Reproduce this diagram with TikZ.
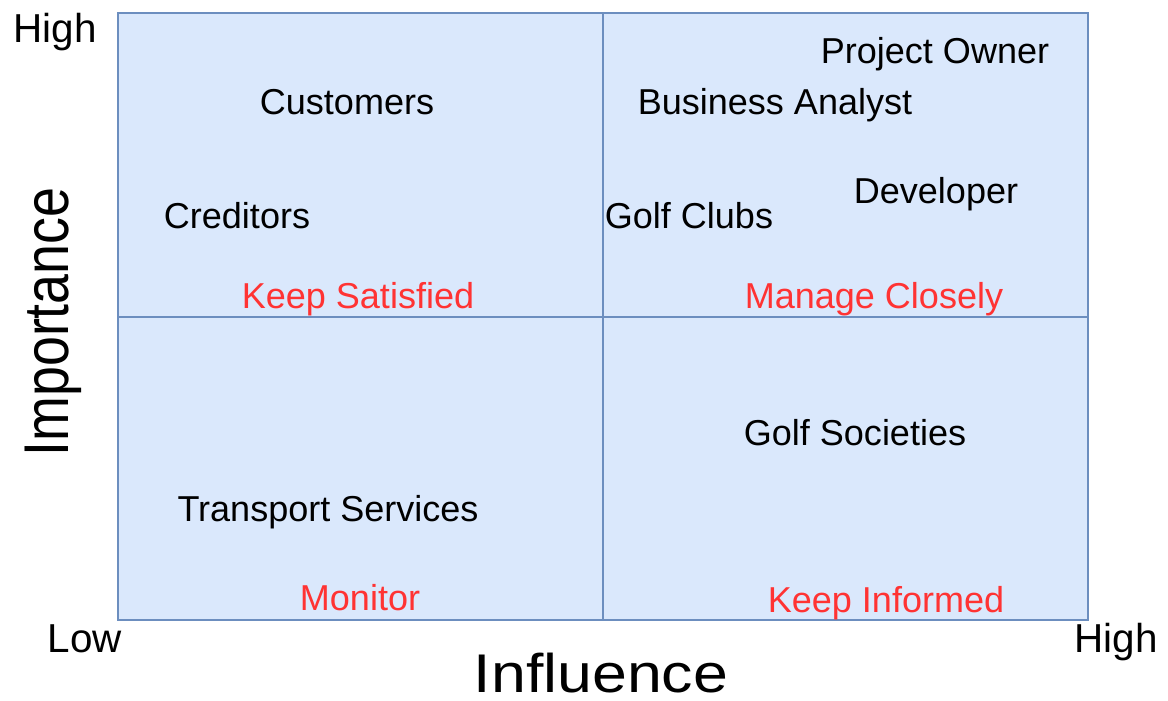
\documentclass[tikz,border=0pt]{standalone}
\usepackage{fontspec}
\setmainfont{Liberation Sans}
\definecolor{gridfill}{HTML}{DAE8FC}
\definecolor{gridline}{HTML}{6C8EBF}
\definecolor{strategyred}{HTML}{FF3333}
\begin{document}
\begin{tikzpicture}[x=0.02cm,y=-0.02cm,
    party/.style={anchor=base,inner sep=0pt,font=\fontsize{20.5}{24}\selectfont},
    strategy/.style={party,text=strategyred},
    tick/.style={anchor=base,inner sep=0pt,font=\fontsize{23}{27}\selectfont}]
  \useasboundingbox (0,0) rectangle (1168,700);
  % Grid
  \draw[gridline,fill=gridfill,line width=1.2pt] (118,13) rectangle (1088,620);
  \draw[gridline,line width=1.2pt] (603,13) -- (603,620);
  \draw[gridline,line width=1.2pt] (118,317) -- (1088,317);
  % Stakeholders
  \node[party] (cust) at (347,114) {Customers};
  \node[party] (cred) at (237,228) {Creditors};
  \node[party] (owner) at (935,63) {Project Owner};
  \node[party] (analyst) at (775,114) {Business Analyst};
  \node[party] (dev) at (936,203) {Developer};
  \node[party] (clubs) at (689,228) {Golf Clubs};
  \node[party] (soc) at (855,445) {Golf Societies};
  \node[party] (trans) at (328,521) {Transport Services};
  % Strategies
  \node[strategy] (satisfied) at (358,308) {Keep Satisfied};
  \node[strategy] (closely) at (874,308) {Manage Closely};
  \node[strategy] (monitor) at (360,610) {Monitor};
  \node[strategy] (informed) at (886,612) {Keep Informed};
  % Axis labels
  \node[tick] (yhigh) at (55,42) {High};
  \node[tick] (xlow) at (85,652) {Low};
  \node[tick] (xhigh) at (1116,652) {High};
  \node[anchor=base,inner sep=0pt,xscale=1.15,font=\fontsize{31}{36}\selectfont] (xlabel) at (601,692) {Influence};
  \node[anchor=base,inner sep=0pt,rotate=90,xscale=0.85,font=\fontsize{36}{42}\selectfont] (ylabel) at (68,322) {Importance};
\end{tikzpicture}
\end{document}
